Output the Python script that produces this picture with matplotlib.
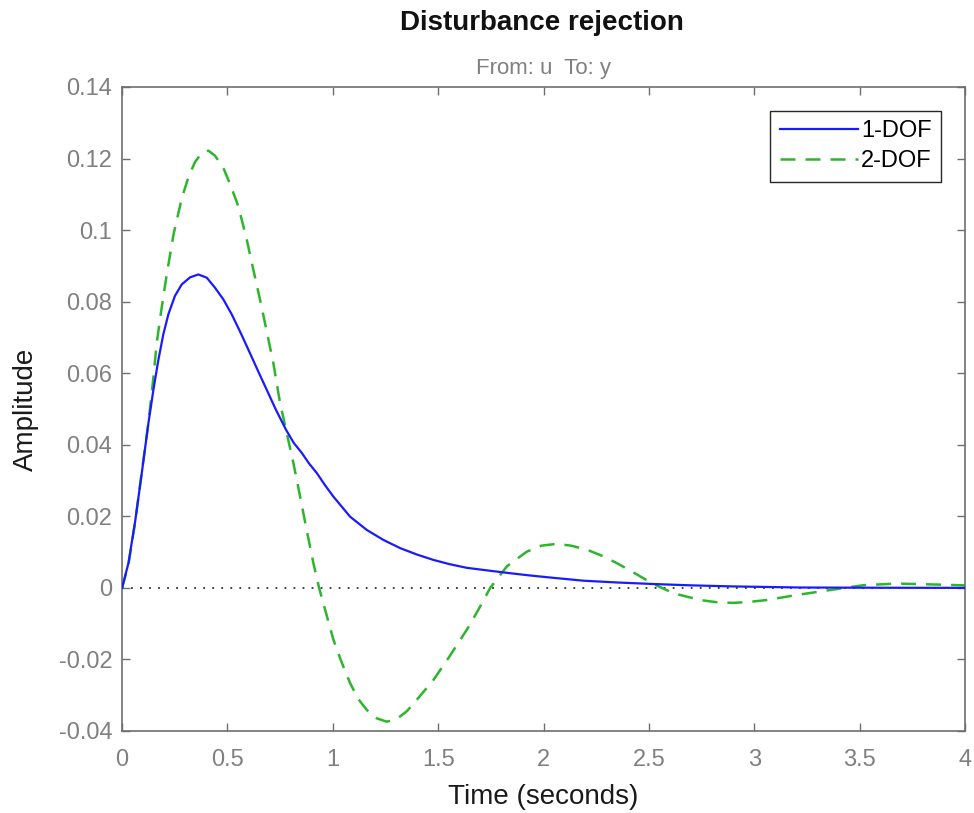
import matplotlib
matplotlib.use("Agg")
import matplotlib.pyplot as plt

# time samples and responses
t_1dof = [0, 0.03, 0.062, 0.093, 0.125, 0.149, 0.172, 0.196, 0.22, 0.251, 0.283,
          0.323, 0.362, 0.402, 0.441, 0.481, 0.52, 0.565, 0.607, 0.647, 0.687,
          0.73, 0.778, 0.815, 0.852, 0.887, 0.924, 0.963, 1.003, 1.082, 1.161,
          1.24, 1.32, 1.40, 1.478, 1.556, 1.636, 1.73, 1.826, 1.93, 2.03, 2.19,
          2.35, 2.51, 2.7, 2.9, 3.22, 3.6, 4.0]
y_1dof = [0, 0.0068, 0.0185, 0.0318, 0.046, 0.0554, 0.0636, 0.0709, 0.0765, 0.0816,
          0.0848, 0.0868, 0.0876, 0.0867, 0.0839, 0.0806, 0.0765, 0.071, 0.0656,
          0.0604, 0.0553, 0.0498, 0.0442, 0.0405, 0.0378, 0.0348, 0.0321, 0.0287,
          0.0255, 0.0199, 0.0162, 0.0134, 0.0111, 0.0093, 0.0078, 0.0066, 0.0056,
          0.0049, 0.0042, 0.0035, 0.0029, 0.0020, 0.0015, 0.0011, 0.0007, 0.0004,
          0.0001, 0.00003, 0.0]

t_2dof = [0, 0.03, 0.062, 0.093, 0.125, 0.149, 0.164, 0.188, 0.212, 0.244, 0.283,
          0.315, 0.346, 0.378, 0.41, 0.441, 0.48, 0.515, 0.552, 0.592, 0.623,
          0.655, 0.687, 0.718, 0.75, 0.778, 0.813, 0.845, 0.876, 0.908, 0.935,
          1.003, 1.04, 1.082, 1.12, 1.161, 1.21, 1.256, 1.30, 1.351, 1.41, 1.478,
          1.55, 1.636, 1.69, 1.747, 1.826, 1.92, 1.99, 2.063, 2.13, 2.205, 2.28,
          2.348, 2.43, 2.514, 2.616, 2.743, 2.82, 2.9, 2.98, 3.06, 3.2, 3.36,
          3.518, 3.676, 3.818, 4.0]
y_2dof = [0, 0.0063, 0.0183, 0.0321, 0.046, 0.0589, 0.0682, 0.0783, 0.0876, 0.0987,
          0.1088, 0.1148, 0.119, 0.1216, 0.1222, 0.1208, 0.1175, 0.1125, 0.1066,
          0.0973, 0.0889, 0.0805, 0.0716, 0.0628, 0.0516, 0.0442, 0.0349, 0.0255,
          0.0162, 0.0069, 0.0, -0.0145, -0.0205, -0.0266, -0.031, -0.0341, -0.0365,
          -0.0374, -0.0368, -0.0345, -0.0305, -0.0257, -0.0195, -0.0117, -0.0062,
          0.0, 0.006, 0.0101, 0.0118, 0.0123, 0.0118, 0.0107, 0.0089, 0.0069,
          0.0042, 0.0013, -0.0015, -0.0034, -0.004, -0.0042, -0.0039, -0.0034,
          -0.002, -0.0006, 0.00075, 0.0012, 0.001, 0.0007]

x_ticks = [0, 0.5, 1, 1.5, 2, 2.5, 3, 3.5, 4]
x_labels = ['0', '0.5', '1', '1.5', '2', '2.5', '3', '3.5', '4']
y_ticks = [-0.04, -0.02, 0, 0.02, 0.04, 0.06, 0.08, 0.1, 0.12, 0.14]
y_labels = ['-0.04', '-0.02', '0', '0.02', '0.04', '0.06', '0.08', '0.1', '0.12', '0.14']

plt.rcParams['font.family'] = ['Liberation Sans', 'DejaVu Sans']

fig = plt.figure(figsize=(9.74, 8.13), dpi=100)
ax = fig.add_axes([0.1253, 0.1009, 0.8655, 0.7921])

gray = '#808080'
ax.axhline(0, color='#333333', linestyle=(0, (1, 4)), linewidth=1.3, zorder=1)
ax.plot(t_1dof, y_1dof, color='#1a1aff', linewidth=1.6, label='1-DOF', zorder=3)
ax.plot(t_2dof, y_2dof, color='#2db52d', linewidth=1.8, linestyle=(0, (6, 4)),
        label='2-DOF', zorder=2)

ax.set_xlim(0, 4)
ax.set_ylim(-0.04, 0.14)
ax.set_xticks(x_ticks)
ax.set_xticklabels(x_labels)
ax.set_yticks(y_ticks)
ax.set_yticklabels(y_labels)
ax.tick_params(direction='in', length=6, width=1, colors='#6e6e6e',
               labelcolor=gray, labelsize=17, top=True, right=True)
ax.tick_params(axis='x', pad=13)
ax.tick_params(axis='y', pad=7)
for s in ax.spines.values():
    s.set_color('#6e6e6e')
    s.set_linewidth(1.2)

ax.set_xlabel('Time (seconds)', fontsize=20, color='#1a1a1a', labelpad=9)
ax.set_ylabel('Amplitude', fontsize=20, color='#1a1a1a', labelpad=14)

fig.text(0.556, 0.972, 'Disturbance rejection', ha='center', va='center',
         fontsize=20, fontweight='bold', color='#111111')
ax.set_title('From: u  To: y', fontsize=16, color=gray, pad=9)

leg = ax.legend(loc='upper right', fontsize=17, handlelength=3.3, fancybox=False,
                framealpha=1, edgecolor='#262626', borderpad=0.4, labelspacing=0.35,
                handletextpad=0.15, borderaxespad=1.0)
leg.get_frame().set_linewidth(1.0)

plt.savefig('out.png', dpi=100)
